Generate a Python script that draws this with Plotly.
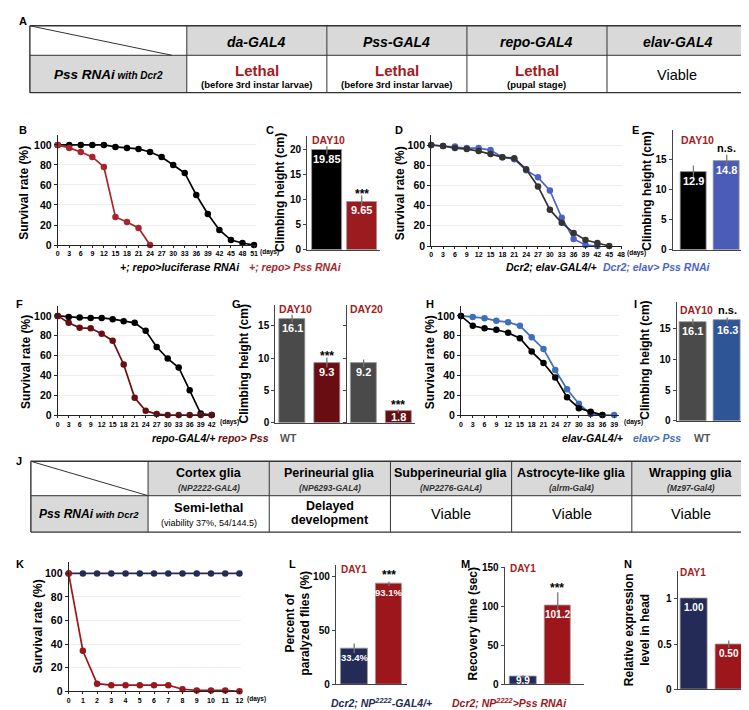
import plotly.graph_objects as go

W, H = 749, 710
FONT = "Liberation Sans, Arial, sans-serif"

# ---------------- data ----------------
b_days = [0, 3, 6, 9, 12, 15, 18, 21, 24, 27, 30, 33, 36, 39, 42, 45, 48, 51]
b_luc = [100, 100, 100, 100, 100, 98, 97, 96, 93, 88, 80, 72, 50, 31, 15, 5, 2, 0]
b_pss_days = [0, 3, 6, 9, 12, 15, 18, 21, 24]
b_pss = [100, 97, 93, 88, 78, 28, 23, 17, 0]

c_vals = [19.85, 9.65]
c_err = [0.8, 1.2]
c_text = ["19.85", "9.65"]

d_ticks = [0, 3, 6, 9, 12, 15, 18, 21, 24, 27, 30, 33, 36, 39, 42, 45, 48]
d_ctrl_days = [0, 3, 6, 9, 12, 15, 18, 21, 24, 27, 30, 33, 36, 39, 42, 45]
d_ctrl = [100, 99, 97, 96, 94, 91, 88, 87, 76, 59, 36, 23, 13, 6, 3, 0]
d_pss_days = [0, 3, 6, 9, 12, 15, 18, 21, 24, 27, 30, 33, 36, 39, 42]
d_pss = [100, 99, 98.5, 97, 97, 95, 88, 86, 75, 68, 55, 28, 7, 1, 0]

e_vals = [12.9, 14.8]
e_err = [1.1, 1.0]
e_text = ["12.9", "14.8"]

f_days = [0, 3, 6, 9, 12, 15, 18, 21, 24, 27, 30, 33, 36, 39, 42]
f_ctrl = [100, 99, 98.3, 98, 98, 96.7, 94.7, 93, 85, 68.6, 57, 48, 25, 1.6, 0]
f_pss = [100, 93, 88, 87.5, 82, 75, 51, 17.5, 4.3, 1, 0, 0, 0, 0, 0]

g10_vals = [16.1, 9.3]
g10_err = [0.6, 0.75]
g10_text = ["16.1", "9.3"]
g20_vals = [9.2, 1.8]
g20_err = [0.6, 0.3]
g20_text = ["9.2", "1.8"]

h_days = [0, 3, 6, 9, 12, 15, 18, 21, 24, 27, 30, 33, 36, 39]
h_ctrl_days = [0, 3, 6, 9, 12, 15, 18, 21, 24, 27, 30, 33, 36]
h_ctrl = [100, 90, 87.5, 86, 83, 77.5, 64, 52.5, 38, 18, 7, 3.3, 0]
h_pss = [100, 99, 97.7, 95, 93.7, 90, 78.5, 66.7, 45.5, 26, 11.5, 1, 0, 0]

i_vals = [16.1, 16.3]
i_err = [0.5, 0.5]
i_text = ["16.1", "16.3"]

k_days = [0, 1, 2, 3, 4, 5, 6, 7, 8, 9, 10, 11, 12]
k_ctrl = [100, 100, 100, 100, 100, 100, 100, 100, 100, 100, 100, 100, 100]
k_pss = [100, 34.4, 6.5, 5.2, 5.2, 5.2, 5.2, 5.2, 1.8, 0.8, 0.8, 0.8, 0]

l_vals = [33.4, 93.1]
l_err = [4.5, 2.0]
l_text = ["33.4%", "93.1%"]
m_vals = [9.9, 101.2]
m_err = [2.0, 17.0]
m_text = ["9.9", "101.2"]
n_vals = [1.00, 0.50]
n_err = [0.01, 0.04]
n_text = ["1.00", "0.50"]

table_a_cols = ["da-GAL4", "Pss-GAL4", "repo-GAL4", "elav-GAL4"]
table_j_cols = ["Cortex glia", "Perineurial glia", "Subperineurial glia",
                "Astrocyte-like glia", "Wrapping glia"]
table_j_drivers = ["(NP2222-GAL4)", "(NP6293-GAL4)", "(NP2276-GAL4)",
                   "(alrm-Gal4)", "(Mz97-Gal4)"]

# colours
BLACK = "#000000"
RED_B = "#a8262b"
BLUE_D = "#4b63c8"
BLUE_E = "#4b5bb8"
MAROON = "#6a0d12"
GRAY = "#4a4a4a"
BLUE_H = "#3f6fb8"
BLUE_I = "#2e5596"
NAVY = "#232b56"
RED_K = "#9c161b"
DAYRED = "#a31c22"

fig = go.Figure()
layout = {}
annotations = []
shapes = []


def px_x(x):
    return x / W


def px_y(y):
    return 1 - y / H


def note(text, x, y, size=10, color=BLACK, xanchor="center", yanchor="middle", angle=0):
    annotations.append(dict(
        text=text, x=px_x(x), y=px_y(y), xref="paper", yref="paper",
        showarrow=False, xanchor=xanchor, yanchor=yanchor, textangle=angle,
        font=dict(family=FONT, size=size, color=color), borderpad=0,
    ))


def hline(x0, x1, y, width=1, color="#333"):
    shapes.append(dict(type="line", xref="paper", yref="paper",
                       x0=px_x(x0), x1=px_x(x1), y0=px_y(y), y1=px_y(y),
                       line=dict(color=color, width=width)))


def seg(x0, y0, x1, y1, width=1, color="#333"):
    shapes.append(dict(type="line", xref="paper", yref="paper",
                       x0=px_x(x0), x1=px_x(x1), y0=px_y(y0), y1=px_y(y1),
                       line=dict(color=color, width=width)))


def box(x0, y0, x1, y1, fill):
    shapes.append(dict(type="rect", xref="paper", yref="paper",
                       x0=px_x(x0), x1=px_x(x1), y0=px_y(y1), y1=px_y(y0),
                       fillcolor=fill, line=dict(width=0), layer="below"))


def line_panel(n, xdom, ydom, xr, xticks, series, yr=(0, 110)):
    for xs, ys, col in series:
        fig.add_trace(go.Scatter(
            x=xs, y=ys, mode="lines+markers", cliponaxis=False,
            line=dict(color=col, width=1.7), marker=dict(color=col, size=6.5),
            xaxis=f"x{n}", yaxis=f"y{n}", showlegend=False, hoverinfo="skip"))
    layout[f"xaxis{n}"] = dict(
        domain=[px_x(xdom[0]), px_x(xdom[1])], range=list(xr), anchor=f"y{n}",
        tickvals=xticks, ticks="outside", ticklen=2, tickcolor="#222",
        showline=True, linecolor="#222", linewidth=1, showgrid=False, zeroline=False,
        tickfont=dict(family=FONT, size=7, color=BLACK, weight="bold"))
    layout[f"yaxis{n}"] = dict(
        domain=[px_y(ydom[1]), px_y(ydom[0])], range=list(yr), anchor=f"x{n}",
        tickvals=[0, 20, 40, 60, 80, 100], ticks="outside", ticklen=3, tickcolor="#222",
        showline=True, linecolor="#222", linewidth=1, showgrid=True,
        gridcolor="#eeeeee", zeroline=False,
        tickfont=dict(family=FONT, size=10.5, color=BLACK, weight="bold"))


def bar_panel(n, xdom, ydom, xr, yr, yticks, vals, errs, colors, texts,
              width=0.77, labels=True, tsize=11, ticktext=None):
    fig.add_trace(go.Bar(
        x=[0, 1], y=vals, width=width,
        marker=dict(color=colors, line=dict(color="#9a9a9a", width=0.8)),
        error_y=dict(type="data", array=errs, color="#777777", thickness=1.3, width=0),
        xaxis=f"x{n}", yaxis=f"y{n}", showlegend=False, hoverinfo="skip"))
    layout[f"xaxis{n}"] = dict(
        domain=[px_x(xdom[0]), px_x(xdom[1])], range=list(xr), anchor=f"y{n}",
        showticklabels=False, ticks="", showline=True, linecolor="#444",
        linewidth=1, showgrid=False, zeroline=False)
    yax = dict(
        domain=[px_y(ydom[1]), px_y(ydom[0])], range=list(yr), anchor=f"x{n}",
        tickvals=yticks, ticks="outside", ticklen=3, tickcolor="#444",
        showline=True, linecolor="#444", linewidth=1, showgrid=False, zeroline=False,
        showticklabels=labels,
        tickfont=dict(family=FONT, size=10, color=BLACK, weight="bold"))
    if ticktext is not None:
        yax["ticktext"] = ticktext
    layout[f"yaxis{n}"] = yax
    scale = (ydom[1] - ydom[0]) / (yr[1] - yr[0])
    for i, (v, t) in enumerate(zip(vals, texts)):
        hpx = v * scale
        shift = -9 if hpx > 18 else -hpx / 2
        annotations.append(dict(
            text=f"<b>{t}</b>", x=i, y=v, xref=f"x{n}", yref=f"y{n}", yshift=shift,
            showarrow=False, font=dict(family=FONT, size=tsize, color="white"),
            borderpad=0))


# ---------------- panel A table ----------------
ax0, ax1, ay0, ay1, ay2 = 20, 742, 12, 42, 80
a_cols = [20, 178, 319, 460, 601, 742]
box(a_cols[1], ay0, ax1, ay1, "#d9d9d9")
box(ax0, ay1, a_cols[1], ay2, "#d9d9d9")
hline(ax0, ax1, ay0, 1.4)
hline(ax0, ax1, ay1, 1)
hline(ax0, ax1, ay2, 1.4)
for i, cx in enumerate(a_cols):
    seg(cx, ay0, cx, ay2, 1.4 if i in (0, len(a_cols) - 1) else 1)
seg(ax0, ay0, 163, ay1, 1)
for i, name in enumerate(table_a_cols):
    cx = (a_cols[i + 1] + a_cols[i + 2]) / 2
    note(f"<b><i>{name}</i></b>", cx, 28, size=14)
note("<b><i>Pss RNAi</i></b><span style='font-size:10px'><b><i> with Dcr2</i></b></span>",
     (a_cols[0] + a_cols[1]) / 2, 62, size=13.5)
a_sub = ["(before 3rd instar larvae)", "(before 3rd instar larvae)", "(pupal stage)"]
for i in range(3):
    cx = (a_cols[i + 1] + a_cols[i + 2]) / 2
    note("<b>Lethal</b>", cx, 57, size=15, color=DAYRED)
    note(f"<b>{a_sub[i]}</b>", cx, 72, size=9.5)
note("Viable", (a_cols[4] + a_cols[5]) / 2, 62, size=14.5)

# ---------------- panel J table ----------------
jy0, jy1, jy2 = 455, 490, 527
j_cols = [21, 139, 261, 383, 505, 626, 745]
box(j_cols[1], jy0, j_cols[-1], jy1, "#d9d9d9")
box(j_cols[0], jy1, j_cols[1], jy2, "#d9d9d9")
hline(j_cols[0], j_cols[-1], jy0, 1.4)
hline(j_cols[0], j_cols[-1], jy1, 1)
hline(j_cols[0], j_cols[-1], jy2, 1.4)
for i, cx in enumerate(j_cols):
    seg(cx, jy0, cx, jy2, 1.4 if i in (0, len(j_cols) - 1) else 1)
seg(j_cols[0], jy0, j_cols[1], jy1, 1)
for i, (name, drv) in enumerate(zip(table_j_cols, table_j_drivers)):
    cx = (j_cols[i + 1] + j_cols[i + 2]) / 2
    note(f"<b>{name}</b>", cx, 467, size=12.5)
    note(f"<b><i>{drv}</i></b>", cx, 482, size=8.5, color="#333333")
note("<b><i>Pss RNAi</i></b><span style='font-size:9.5px'><b><i> with Dcr2</i></b></span>",
     (j_cols[0] + j_cols[1]) / 2, 509, size=12)
note("<b>Semi-lethal</b>", (j_cols[1] + j_cols[2]) / 2, 502, size=13)
note("(viability 37%, 54/144.5)", (j_cols[1] + j_cols[2]) / 2, 518, size=9)
note("<b>Delayed</b>", (j_cols[2] + j_cols[3]) / 2, 500, size=12.5)
note("<b>development</b>", (j_cols[2] + j_cols[3]) / 2, 515, size=12.5)
for i in (3, 4, 5):
    note("Viable", (j_cols[i] + j_cols[i + 1]) / 2, 509, size=14.5)

# ---------------- B / C ----------------
line_panel(1, (48, 248), (123, 235), (0, 51.6), b_days,
           [(b_days, b_luc, BLACK), (b_pss_days, b_pss, RED_B)])
bar_panel(2, (299, 372), (124, 240), (-0.571, 1.514), (0, 22.7), [0, 5, 10, 15, 20],
          c_vals, c_err, [BLACK, "#9b1b1f"], c_text, width=0.86)

# ---------------- D / E ----------------
line_panel(3, (424, 616), (123, 236), (0, 48.2), d_ticks,
           [(d_pss_days, d_pss, BLUE_D), (d_ctrl_days, d_ctrl, "#333333")])
bar_panel(4, (667, 742), (118, 240), (-0.627, 1.612), (0, 19.9), [0, 5, 10, 15],
          e_vals, e_err, [BLACK, BLUE_E], e_text, width=0.78)

# ---------------- F / G ----------------
line_panel(5, (48, 206), (297, 408), (0, 42.8), f_days,
           [(f_days, f_ctrl, BLACK), (f_days, f_pss, MAROON)])
bar_panel(6, (267, 338), (296, 416), (-0.486, 1.543), (0, 18.2), [0, 5, 10, 15],
          g10_vals, g10_err, [GRAY, MAROON], g10_text, width=0.74)
bar_panel(7, (339, 408), (296, 416), (-0.486, 1.486), (0, 18.2), [0, 5, 10, 15],
          g20_vals, g20_err, [GRAY, MAROON], g20_text, width=0.74, labels=False)

# ---------------- H / I ----------------
line_panel(8, (454, 613), (297, 408), (0, 40.2), h_days,
           [(h_days, h_pss, BLUE_H), (h_ctrl_days, h_ctrl, BLACK)])
bar_panel(9, (671, 746), (293, 414), (-0.478, 1.696), (0, 19.3), [0, 5, 10, 15],
          i_vals, i_err, [GRAY, BLUE_I], i_text, width=0.78)

# ---------------- K / L / M / N ----------------
line_panel(10, (59, 233), (557, 689), (0, 12.14), k_days,
           [(k_days, k_ctrl, NAVY), (k_days, k_pss, RED_K)])
bar_panel(11, (328, 400), (560, 682), (-0.53, 1.53), (0, 111), [0, 50, 100],
          l_vals, l_err, [NAVY, RED_K], l_text, tsize=9.5)
bar_panel(12, (498, 578), (563, 682), (-0.53, 1.76), (0, 150), [0, 50, 100, 150],
          m_vals, m_err, [NAVY, RED_K], m_text, tsize=10)
bar_panel(13, (672, 745), (567, 687), (-0.47, 1.61), (0, 1.30), [0, 0.5, 1],
          n_vals, n_err, [NAVY, RED_K], n_text, tsize=10, ticktext=["0", "0.5", "1"])

# ---------------- panel letters ----------------
for lab, x, y in [("A", 8, 7), ("B", 8, 118), ("C", 257, 118), ("D", 387, 118),
                  ("E", 625, 118), ("F", 5, 295), ("G", 222, 295), ("H", 418, 295),
                  ("I", 627, 295), ("J", 5, 455), ("K", 5, 559), ("L", 280, 559),
                  ("M", 453, 559), ("N", 617, 559)]:
    note(f"<b>{lab}</b>", x, y, size=11, xanchor="left")

# ---------------- axis titles ----------------
for x, y in [(14, 182), (393, 182), (16, 354), (423, 354), (29, 623)]:
    note("<b>Survival rate (%)</b>", x, y, size=12, angle=-90)
for x, y in [(272, 182), (641, 180), (236, 356), (639, 352)]:
    note("<b>Climbing height (cm)</b>", x, y, size=12, angle=-90)
note("<b>Percent of<br>paralyzed flies (%)</b>", 289, 620, size=12, angle=-90)
note("<b>Recovery time (sec)</b>", 466, 620, size=12, angle=-90)
note("<b>Relative expression<br>level in head</b>", 632, 626, size=12, angle=-90)

# (days)
for x, y in [(251, 242), (620, 243), (210, 415), (617, 415), (238, 697)]:
    note("<b>(days)</b>", x, y, size=6.5, xanchor="left")

# DAY labels and significance
note("<b>DAY10</b>", 303, 128, size=10.5, color=DAYRED, xanchor="left")
note("<b>***</b>", 354, 183, size=12)
note("<b>DAY10</b>", 675, 128, size=10.5, color=DAYRED, xanchor="left")
note("<b>n.s.</b>", 721, 136, size=11)
note("<b>DAY10</b>", 270, 300, size=10.5, color=DAYRED, xanchor="left")
note("<b>DAY20</b>", 341, 300, size=10.5, color=DAYRED, xanchor="left")
note("<b>***</b>", 319, 348, size=12)
note("<b>***</b>", 391, 398, size=12)
note("<b>DAY10</b>", 673, 301, size=10.5, color=DAYRED, xanchor="left")
note("<b>n.s.</b>", 722, 301, size=11)
note("<b>DAY1</b>", 332, 565, size=10, color=DAYRED, xanchor="left")
note("<b>***</b>", 382, 571, size=12)
note("<b>DAY1</b>", 502, 564, size=10, color=DAYRED, xanchor="left")
note("<b>***</b>", 551, 584, size=12)
note("<b>DAY1</b>", 673, 568, size=10, color=DAYRED, xanchor="left")

# genotype keys (centred where the reference puts them)
keys = [
    ("<b><i>+; repo&gt;luciferase RNAi</i></b>", 171, 257, BLACK),
    ("<b><i>+; repo&gt; Pss RNAi</i></b>", 287, 257, RED_B),
    ("<b><i>Dcr2; elav-GAL4/+</i></b>", 545, 257, BLACK),
    ("<b><i>Dcr2; elav&gt; Pss RNAi</i></b>", 651, 257, BLUE_D),
    ("<b><i>repo-GAL4/+</i></b>", 175, 431, BLACK),
    ("<b><i>repo&gt; Pss</i></b>", 235, 431, MAROON),
    ("<b>WT</b>", 280, 431, "#555555"),
    ("<b><i>elav-GAL4/+</i></b>", 586, 431, BLACK),
    ("<b><i>elav&gt; Pss</i></b>", 651, 431, BLUE_H),
    ("<b>WT</b>", 697, 431, "#555555"),
    ("<b><i>Dcr2; NP<sup>2222</sup>-GAL4/+</i></b>", 374, 700, NAVY),
    ("<b><i>Dcr2; NP<sup>2222</sup>&gt;Pss RNAi</i></b>", 503, 700, RED_K),
]
for txt, x, y, col in keys:
    note(txt, x, y, size=10.5, color=col)

fig.update_layout(
    width=W, height=H, margin=dict(l=0, r=0, t=0, b=0),
    paper_bgcolor="white", plot_bgcolor="white",
    font=dict(family=FONT), showlegend=False, bargap=0,
    annotations=annotations, shapes=shapes, **layout,
)
fig.write_html("out.html")
